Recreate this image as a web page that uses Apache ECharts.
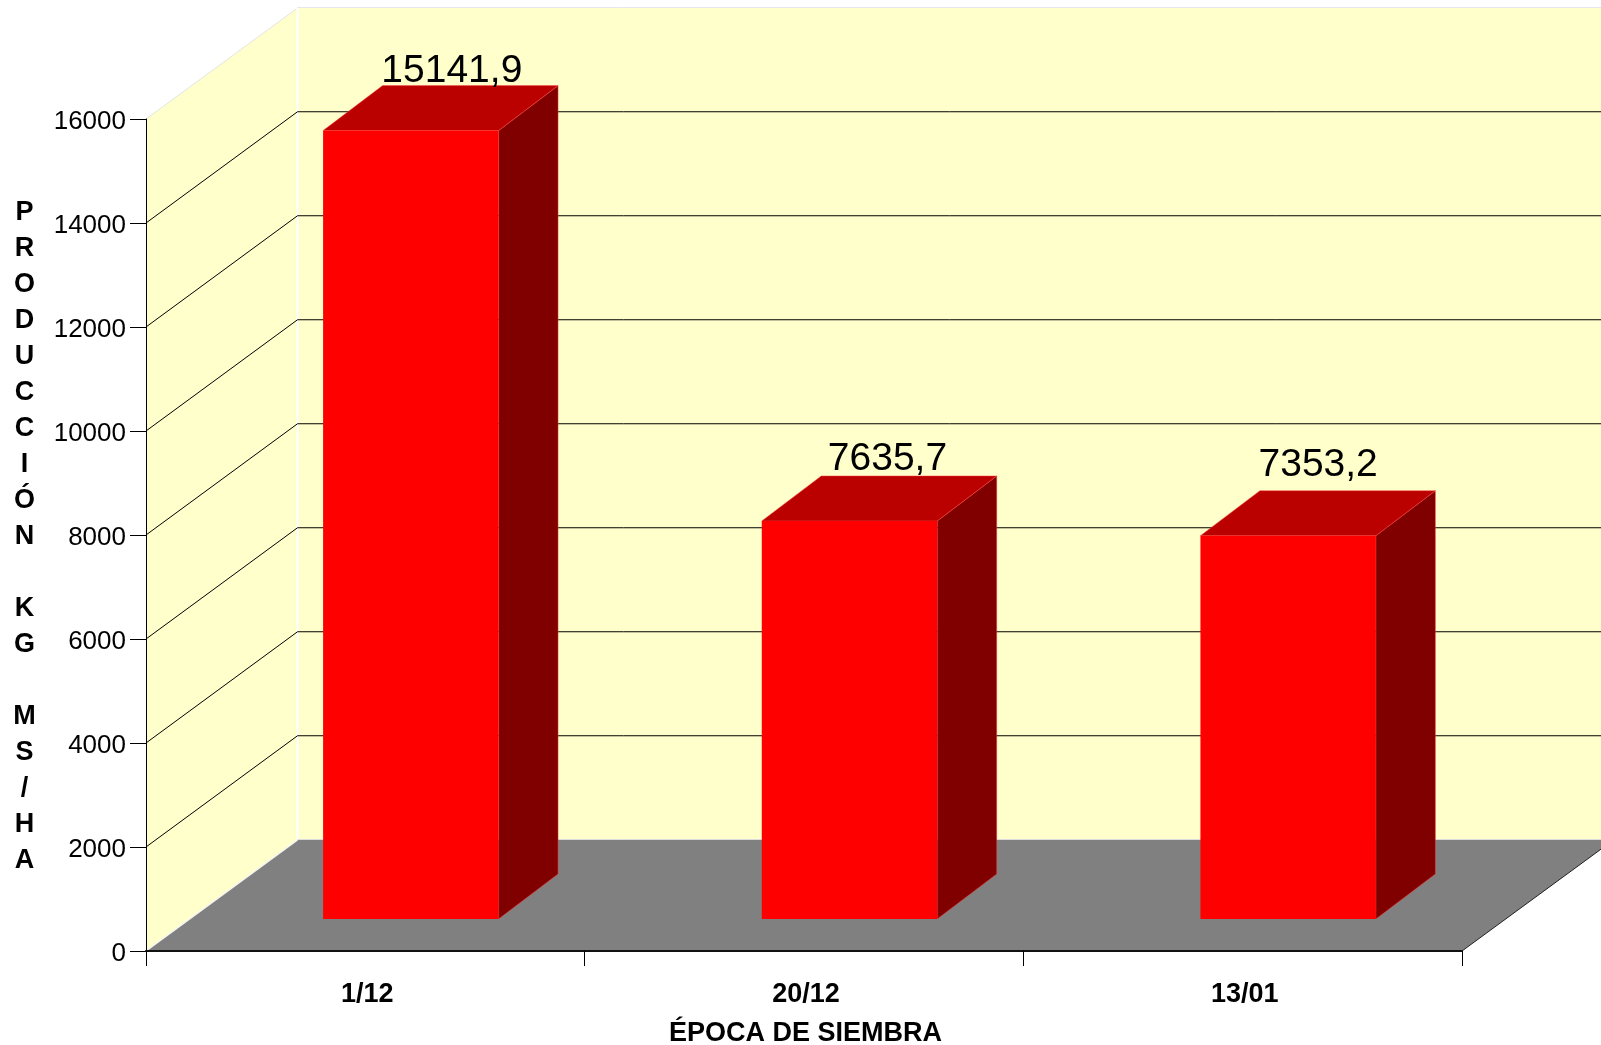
<!DOCTYPE html>
<html>
<head>
<meta charset="utf-8">
<style>html,body{margin:0;padding:0;background:#fff}#c{width:1601px;height:1045px}</style>
<script src="https://cdn.jsdelivr.net/npm/echarts@6/dist/echarts.min.js"></script>
</head>
<body>
<div id="c"></div>
<script>
const categories = ['1/12', '20/12', '13/01'];
const values = [15141.9, 7635.7, 7353.2];
const yTicks = [0, 2000, 4000, 6000, 8000, 10000, 12000, 14000, 16000];
const yTitle = ['P','R','O','D','U','C','C','I','Ó','N','','K','G','','M','S','/','H','A'];
const xTitle = 'ÉPOCA DE SIEMBRA';

const FONT = '"Liberation Sans", Arial, sans-serif';
const DEPTH = { dx: 151.5, dy: 111 };
const GRID_BACK_DY = 111.25;
const BAR = { front: { dx: 45.5, dy: 32 }, back: { dx: 105, dy: 77 }, widthRatio: 0.4, topBump: 1 };
const labelShift = [41, 38, 30];
const labelRise = [-5.6, -2.6, 5.6];

const chart = echarts.init(document.getElementById('c'), null, { renderer: 'canvas' });

function poly(points, fill, stroke) {
  return { type: 'polygon', shape: { points }, style: { fill, stroke: stroke || null, lineWidth: 1 } };
}

function renderWalls(params, api) {
  const c = params.coordSys;
  const top = api.coord([0, yTicks[yTicks.length - 1]])[1];
  const bot = api.coord([0, yTicks[0]])[1];
  const l = c.x, r = c.x + c.width, d = DEPTH;
  const edge = (x1, y1, x2, y2, stroke, lineWidth) => ({ type: 'line', shape: { x1, y1, x2, y2 }, style: { stroke, lineWidth } });
  return {
    type: 'group',
    children: [
      poly([[l + d.dx, top - d.dy], [r + d.dx, top - d.dy], [r + d.dx, bot - d.dy], [l + d.dx, bot - d.dy]], '#FFFFCC'),
      poly([[l, bot], [l, top], [l + d.dx, top - d.dy], [l + d.dx, bot - d.dy]], '#FFFFCC'),
      edge(l + d.dx, top - d.dy - 0.5, r + d.dx, top - d.dy - 0.5, '#e6e6ee', 1),
      edge(l, top, l + d.dx, top - d.dy, '#e4e4e4', 1),
      edge(l + d.dx, top - d.dy, l + d.dx, bot - d.dy, '#ffffff', 2)
    ]
  };
}

function renderGrid(params, api) {
  const c = params.coordSys;
  const y = api.coord([0, api.value(0)])[1];
  const l = c.x, r = c.x + c.width, d = DEPTH;
  return {
    type: 'polyline',
    shape: { points: [[l, y], [l + d.dx, y - GRID_BACK_DY], [r + d.dx, y - GRID_BACK_DY]] },
    style: { stroke: '#000', lineWidth: 1, fill: null }
  };
}

function renderFloor(params, api) {
  const c = params.coordSys;
  const bot = api.coord([0, yTicks[0]])[1];
  const l = c.x, r = c.x + c.width, d = DEPTH;
  return {
    type: 'group',
    children: [
      poly([[l, bot], [r, bot], [r + d.dx, bot - d.dy], [l + d.dx, bot - d.dy]], '#808080'),
      { type: 'line', shape: { x1: l + d.dx, y1: bot - d.dy - 0.5, x2: r + d.dx, y2: bot - d.dy - 0.5 }, style: { stroke: '#dcdcdc', lineWidth: 1 } },
      { type: 'line', shape: { x1: l, y1: bot, x2: l + d.dx, y2: bot - d.dy }, style: { stroke: '#f4f4f4', lineWidth: 1.5 } },
      { type: 'line', shape: { x1: r, y1: bot, x2: r + d.dx, y2: bot - d.dy }, style: { stroke: '#222', lineWidth: 1 } }
    ]
  };
}

function renderBar(params, api) {
  const i = api.value(0), v = api.value(1);
  const base = api.coord([i, 0]);
  const head = api.coord([i, v]);
  const w = api.size([1, 0])[0] * BAR.widthRatio;
  const f = BAR.front, b = BAR.back;
  const x0 = base[0] - w / 2 + f.dx, x1 = x0 + w;
  const y0 = base[1] - f.dy, yt = head[1] - f.dy - BAR.topBump;
  const sx = b.dx - f.dx, sy = b.dy - f.dy;
  return {
    type: 'group',
    children: [
      poly([[x1, y0], [x1 + sx, y0 - sy], [x1 + sx, yt - sy], [x1, yt]], '#800000', 'rgba(255,70,70,0.45)'),
      poly([[x0, yt], [x1, yt], [x1 + sx, yt - sy], [x0 + sx, yt - sy]], '#BB0000', 'rgba(255,70,70,0.45)'),
      poly([[x0, y0], [x1, y0], [x1, yt], [x0, yt]], '#FF0000'),
      {
        type: 'text',
        style: {
          text: String(v).replace('.', ','),
          x: base[0] + f.dx + labelShift[i],
          y: yt - sy - labelRise[i],
          align: 'center',
          verticalAlign: 'bottom',
          font: '39px ' + FONT,
          fill: '#000'
        },
        z2: 5
      }
    ]
  };
}

chart.setOption({
  animation: false,
  backgroundColor: '#fff',
  title: {
    text: yTitle.join('\n'),
    left: 24.5,
    top: 195,
    padding: 0,
    textAlign: 'center',
    textVerticalAlign: 'top',
    textStyle: { color: '#000', fontFamily: FONT, fontSize: 27, fontWeight: 'bold', lineHeight: 36 }
  },
  grid: { left: 146, right: 139, top: 119, bottom: 94, containLabel: false, outerBoundsMode: 'none' },
  xAxis: {
    type: 'category',
    data: categories,
    z: 10,
    boundaryGap: true,
    axisLine: { show: true, lineStyle: { color: '#111', width: 2 } },
    axisTick: { show: true, length: 15, lineStyle: { color: '#000', width: 1 } },
    axisLabel: { color: '#000', fontFamily: FONT, fontSize: 27, fontWeight: 'bold', margin: 30, padding: [0, 0, 0, 4] },
    name: xTitle,
    nameLocation: 'middle',
    nameGap: 69,
    nameTextStyle: { color: '#000', fontFamily: FONT, fontSize: 27, fontWeight: 'bold', padding: [0, 0, 0, 3] }
  },
  yAxis: {
    type: 'value',
    min: yTicks[0],
    max: yTicks[yTicks.length - 1],
    interval: 2000,
    z: 10,
    axisLine: { show: true, lineStyle: { color: '#000', width: 1 } },
    axisTick: { show: true, length: 16, lineStyle: { color: '#000' } },
    axisLabel: { color: '#000', fontFamily: FONT, fontSize: 26, margin: 20, verticalAlign: 'top', lineHeight: 5, formatter: v => String(v) },
    splitLine: { show: false }
  },
  series: [
    { type: 'custom', name: 'walls', z: 1, silent: true, data: [0], renderItem: renderWalls },
    { type: 'custom', name: 'grid', z: 2, silent: true, data: yTicks.slice(1, -1).map(t => [t]), encode: { y: 0 }, renderItem: renderGrid },
    { type: 'custom', name: 'floor', z: 3, silent: true, data: [0], renderItem: renderFloor },
    { type: 'custom', name: 'Producción', z: 4, data: values.map((v, i) => [i, v]), encode: { x: 0, y: 1 }, renderItem: renderBar }
  ]
});
</script>
</body>
</html>
